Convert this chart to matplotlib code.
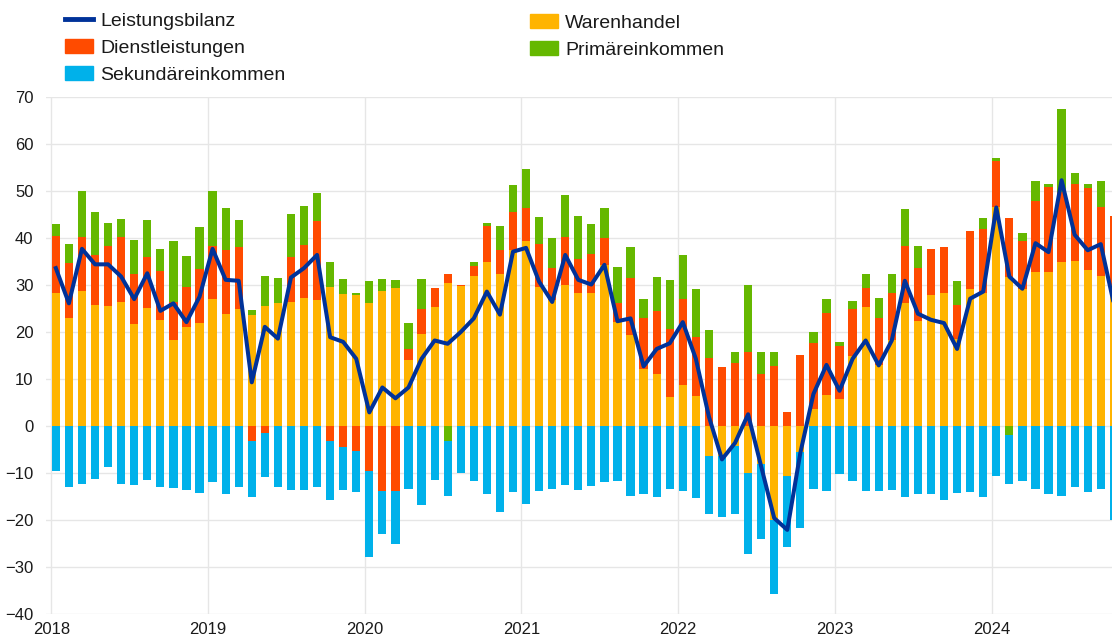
import numpy as np
import matplotlib
matplotlib.use('Agg')
import matplotlib.pyplot as plt
from matplotlib.lines import Line2D
from matplotlib.patches import Patch

plt.rcParams['font.family'] = ['Liberation Sans', 'DejaVu Sans']

# monthly data, Jan 2018 - Oct 2024 (EUR bn)
years = [2018, 2019, 2020, 2021, 2022, 2023, 2024]

warenhandel = [
    28.2, 22.9, 28.7, 25.7, 25.5, 26.3, 21.6, 25.1, 22.6, 18.2, 21.1, 21.9,
    27.1, 23.9, 24.9, 23.7, 25.5, 26.1, 26.3, 27.3, 26.8, 29.6, 28.0, 27.9,
    26.2, 28.7, 29.3, 14.1, 19.6, 25.4, 30.4, 29.8, 31.9, 34.8, 32.3, 37.5,
    39.4, 29.6, 26.8, 30.1, 28.4, 28.4, 34.3, 22.1, 19.3, 12.1, 11.1, 6.1,
    8.7, 6.3, -6.3, -6.4, -4.2, -9.9, -8.0, -20.1, -10.6, -5.6, 3.6, 6.6,
    5.7, 15.0, 25.4, 12.9, 18.2, 26.1, 22.3, 27.9, 28.2, 18.6, 29.1, 28.4,
    46.6, 31.8, 29.2, 32.8, 32.8, 34.8, 35.2, 33.3, 32.0, 30.0,
]
dienstleistungen = [
    12.2, 11.7, 11.5, 10.7, 12.9, 13.9, 10.8, 10.8, 10.3, 8.2, 8.5, 11.5,
    11.3, 13.6, 13.1, -3.1, -1.4, 0.0, 9.6, 11.3, 16.8, -3.2, -4.5, -5.4,
    -9.6, -13.9, -13.9, 2.2, 5.3, 4.0, 1.9, 0.3, 2.2, 7.7, 5.2, 8.1,
    6.9, 9.1, 6.8, 10.1, 7.1, 8.2, 5.8, 4.0, 12.1, 10.8, 13.3, 14.6,
    18.4, 12.6, 14.5, 12.5, 13.4, 15.8, 11.1, 12.7, 2.9, 15.1, 14.1, 17.5,
    11.4, 9.9, 4.0, 10.0, 10.0, 12.3, 11.3, 9.7, 9.8, 7.1, 12.5, 13.5,
    9.7, 12.5, 10.1, 15.0, 18.0, 14.9, 16.3, 17.3, 14.7, 14.7,
]
primaereinkommen = [
    2.6, 4.2, 9.9, 9.2, 4.7, 3.9, 7.2, 8.0, 4.8, 12.9, 6.5, 8.9,
    11.6, 8.8, 5.9, 0.9, 6.5, 5.3, 9.2, 8.2, 6.0, 5.2, 3.3, 0.3,
    4.7, 2.6, 1.8, 5.6, 6.4, 0.0, -3.2, 0.0, 0.8, 0.7, 5.0, 5.7,
    8.3, 5.7, 6.5, 8.9, 9.1, 6.4, 6.3, 7.8, 6.7, 4.2, 7.2, 10.4,
    9.3, 10.2, 5.9, 0.0, 2.3, 14.2, 4.7, 3.1, 0.0, 0.0, 2.2, 3.0,
    0.7, 1.6, 2.9, 4.4, 4.1, 7.8, 4.8, 0.0, 0.0, 5.2, 0.0, 2.3,
    0.8, -1.9, 1.8, 4.3, 0.7, 17.7, 2.3, 0.9, 5.4, 0.0,
]
sekundaereinkommen = [
    -9.6, -12.9, -12.4, -11.2, -8.8, -12.3, -12.6, -11.4, -13.0, -13.2, -13.6, -14.3,
    -12.0, -14.5, -12.9, -11.9, -9.5, -12.9, -13.6, -13.7, -13.0, -12.5, -9.1, -8.7,
    -18.3, -9.0, -11.1, -13.4, -16.8, -11.4, -11.6, -10.0, -11.8, -14.4, -18.4, -14.1,
    -16.6, -13.8, -13.4, -12.5, -13.6, -12.7, -12.0, -11.6, -14.8, -14.5, -15.1, -13.4,
    -13.9, -15.4, -12.4, -13.0, -14.5, -17.3, -16.0, -15.6, -15.2, -16.0, -13.4, -13.8,
    -10.2, -11.8, -13.8, -13.9, -13.6, -15.0, -14.5, -14.5, -15.7, -14.3, -14.1, -15.1,
    -10.6, -10.5, -11.7, -13.4, -14.5, -14.9, -13.0, -14.1, -13.4, -20.0,
]
leistungsbilanz = [
    33.6, 26.1, 37.7, 34.4, 34.4, 31.8, 27.0, 32.5, 24.5, 26.1, 22.1, 27.5,
    37.7, 31.1, 30.9, 9.3, 21.1, 18.6, 31.6, 33.6, 36.4, 18.9, 17.9, 14.3,
    2.9, 8.2, 5.9, 8.2, 14.3, 18.2, 17.5, 20.0, 22.9, 28.6, 23.7, 37.1,
    37.9, 30.7, 26.4, 36.4, 31.1, 30.1, 34.3, 22.3, 22.9, 12.7, 16.4, 17.6,
    22.1, 14.3, 2.0, -7.1, -3.6, 2.5, -8.6, -19.6, -22.1, -5.7, 6.8, 13.0,
    7.5, 14.3, 18.2, 12.9, 18.2, 30.9, 23.9, 22.6, 21.9, 16.4, 27.1, 28.6,
    46.5, 31.8, 29.2, 38.9, 37.0, 52.3, 40.7, 37.4, 38.7, 26.0,
]

components = [
    ('Warenhandel', warenhandel, '#FFB400'),
    ('Dienstleistungen', dienstleistungen, '#FF4B00'),
    ('Primäreinkommen', primaereinkommen, '#65B800'),
    ('Sekundäreinkommen', sekundaereinkommen, '#00B1EA'),
]
line_color = '#003299'
text_color = '#1a1a1a'

x = np.arange(len(warenhandel))

fig = plt.figure(figsize=(11.12, 6.43), dpi=100)
ax = fig.add_axes([0.0414, 0.0451, 0.9586, 0.804])

pos_bottom = np.zeros(len(x))
neg_bottom = np.zeros(len(x))
for name, vals, col in components:
    v = np.array(vals)
    bottom = np.where(v >= 0, pos_bottom, neg_bottom)
    ax.bar(x, v, width=0.63, bottom=bottom, color=col, linewidth=0, zorder=2)
    pos_bottom = pos_bottom + np.clip(v, 0, None)
    neg_bottom = neg_bottom + np.clip(v, None, 0)

ax.plot(x, leistungsbilanz, color=line_color, linewidth=2.9, zorder=3,
        solid_joinstyle='round')

# axes styling
year_pos = [12 * i - 0.35 for i in range(len(years))]
ax.set_xticks(year_pos)
ax.set_xticklabels([str(y) for y in years])
ax.set_xlim(-0.75, 80.86)
ax.set_ylim(-40, 70)
ax.set_yticks(np.arange(-40, 71, 10))
ax.grid(True, color='#e6e6e6', linewidth=1, zorder=0)
ax.set_axisbelow(True)
for s in ax.spines.values():
    s.set_visible(False)
ax.tick_params(axis='both', length=0, labelsize=12, colors=text_color)
ax.tick_params(axis='y', pad=9)
ax.tick_params(axis='x', pad=6)

# legends
leg_kw = dict(frameon=False, fontsize=14, handlelength=1.44, handletextpad=0.36,
              labelspacing=0.47, borderpad=0, borderaxespad=0, loc='upper left',
              labelcolor=text_color)
h1 = [Line2D([0], [0], color=line_color, linewidth=3.5),
      Patch(color='#FF4B00'), Patch(color='#00B1EA')]
l1 = ['Leistungsbilanz', 'Dienstleistungen', 'Sekundäreinkommen']
fig.legend(h1, l1, bbox_to_anchor=(65 / 1112, 1 - 12.5 / 643), **leg_kw)
h2 = [Patch(color='#FFB400'), Patch(color='#65B800')]
l2 = ['Warenhandel', 'Primäreinkommen']
fig.legend(h2, l2, bbox_to_anchor=(530 / 1112, 1 - 14.5 / 643), **leg_kw)

fig.savefig('out.png', dpi=100)
